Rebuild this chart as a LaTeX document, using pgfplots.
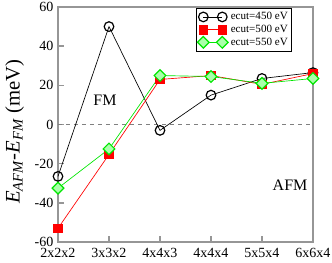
\documentclass[border=0pt]{standalone}
\usepackage{fontspec}
\setmainfont{Liberation Serif}
\usepackage{pgfplots}
\pgfplotsset{compat=1.18}
\definecolor{axgray}{RGB}{150,150,150}
\definecolor{mygreen}{RGB}{0,230,0}
\definecolor{lightgreen}{RGB}{170,255,170}
\begin{document}
\begin{tikzpicture}
\begin{axis}[
  at={(0,0)}, anchor=south west,
  scale only axis,
  width=191.25pt, height=176.25pt,
  xmin=0, xmax=5, ymin=-60, ymax=60,
  xtick={0,1,2,3,4,5},
  xticklabels={2x2x2,3x3x2,4x4x3,4x4x4,5x5x4,6x6x4},
  ytick={-60,-40,-20,0,20,40,60},
  yticklabels={-60,-40,-20,0,20,40,60},
  tick align=inside,
  xtick pos=bottom, ytick pos=left,
  major tick length=4.5pt,
  axis line style={axgray, line width=1.2pt},
  every tick/.style={axgray, line width=1pt},
  tick label style={font=\fontsize{10.5}{12}\selectfont},
  xticklabel style={yshift=-1.5pt},
  every axis y label/.style={at={(axis description cs:-0.17,0.47)}, rotate=90, anchor=center},
  ylabel={\fontsize{15.5}{17}\selectfont\textit{E}\textsubscript{\textit{AFM}}-\textit{E}\textsubscript{\textit{FM}} (meV)},
  legend style={at={(0.918,0.996)}, anchor=north east, draw=black, line width=0.5pt,
    font=\fontsize{8.3}{9}\selectfont, inner sep=1pt, row sep=-1.5pt, cells={anchor=west}},
  legend image code/.code={\draw[#1] plot coordinates {(0cm,0cm) (0.5cm,0cm)};},
  clip=false,
]
\addplot[gray, dashed, line width=0.6pt, forget plot] coordinates {(0,0) (5,0)};
\addplot[black, line width=0.5pt, mark=o, mark size=3.6pt, mark options={line width=0.9pt}]
  coordinates {(0,-26.5) (1,50) (2,-3) (3,15) (4,23.5) (5,26.5)};
\addlegendentry{ecut=450 eV}
\addplot[red, line width=0.5pt, mark=square*, mark size=3.2pt, mark options={fill=red, draw=red}]
  coordinates {(0,-53) (1,-15.3) (2,23) (3,25) (4,20.5) (5,26)};
\addlegendentry{ecut=500 eV}
\addplot[mygreen, line width=0.5pt, mark=square*, mark size=3.1pt, mark options={rotate=45, fill=lightgreen, draw=mygreen, line width=0.9pt}]
  coordinates {(0,-32.5) (1,-12.5) (2,25) (3,24.5) (4,21) (5,23.5)};
\addlegendentry{ecut=550 eV}
\node[font=\fontsize{12}{14}\selectfont] at (axis cs:0.92,12.4) {FM};
\node[font=\fontsize{12}{14}\selectfont] at (axis cs:4.55,-31) {AFM};
\end{axis}
\pgfresetboundingbox
\useasboundingbox (-43.5pt,-15pt) rectangle (205.5pt,181.5pt);
\end{tikzpicture}
\end{document}
